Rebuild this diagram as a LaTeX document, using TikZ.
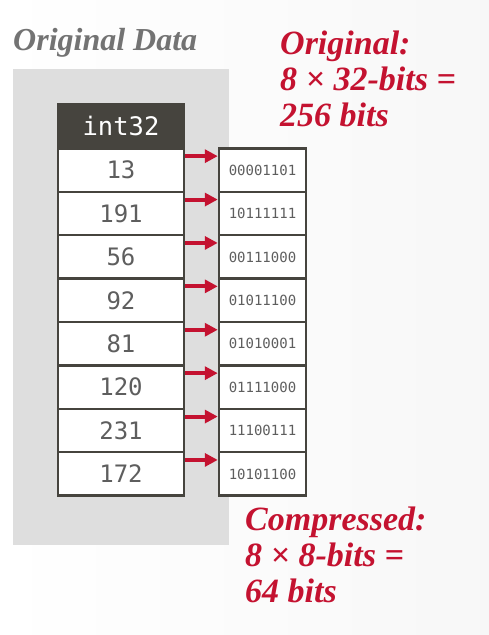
\documentclass[tikz,border=0pt]{standalone}
\usepackage{fontspec}
\setmainfont{Liberation Serif}
\setmonofont{DejaVu Sans Mono}
\usepackage{tikz}
\usetikzlibrary{arrows.meta}

\definecolor{slidered}{HTML}{C41230}
\definecolor{cellline}{HTML}{46443E}
\definecolor{panelgray}{HTML}{DEDEDE}
\definecolor{numgray}{HTML}{5E5E5E}

\tikzset{
  valcell/.style={draw=cellline,line width=2.5pt,fill=white,minimum width=126pt,
    minimum height=43.4pt,inner sep=0pt,text=numgray,font=\fontsize{24}{24}\selectfont\ttfamily},
  bincell/.style={draw=cellline,line width=2.5pt,fill=white,minimum width=87pt,
    minimum height=43.4pt,inner sep=0pt,text=numgray,font=\fontsize{14}{14}\selectfont\ttfamily},
  headcell/.style={valcell,fill=cellline,text=white,minimum height=44pt,
    font=\fontsize{25.5}{25.5}\selectfont\ttfamily},
  redarrow/.style={slidered,line width=4pt,-{Triangle[length=13pt,width=13pt]}},
  bigred/.style={slidered,align=left,inner sep=0pt,
    font=\fontsize{34}{36}\selectfont\bfseries\itshape}
}

\begin{document}
\begin{tikzpicture}[x=1pt,y=-1pt]
    \useasboundingbox (0,0) rectangle (489,635);
    \shade [left color=white,right color=black!3] (0,0) rectangle (489,635);
    \fill [panelgray] (13,69) rectangle (229,545);
    \node [anchor=base west,inner sep=0pt,text=black!55,
      font=\fontsize{32}{32}\selectfont\bfseries\itshape] (title) at (13,50) {Original Data};
    % column of int32 values
    \node [headcell] (head) at (121,126) {int32};
    \foreach \v/\b [count=\i] in {13/00001101,191/10111111,56/00111000,92/01011100,
        81/01010001,120/01111000,231/11100111,172/10101100}{
      \node [valcell] (v\i) at (121,{126.7+\i*43.4}) {\v};
      \node [bincell] (b\i) at (262.5,{126.7+\i*43.4}) {\b};
      \draw [redarrow] ([yshift=-9pt]v\i.north east) -- ([yshift=-9pt]b\i.north west);
    }
    \node [bigred,anchor=north west] (orig) at (280,31) {Original:\\8 × 32-bits =\\256 bits};
    \node [bigred,anchor=north west] (comp) at (245,507) {Compressed:\\8 × 8-bits =\\64 bits};
\end{tikzpicture}
\end{document}
